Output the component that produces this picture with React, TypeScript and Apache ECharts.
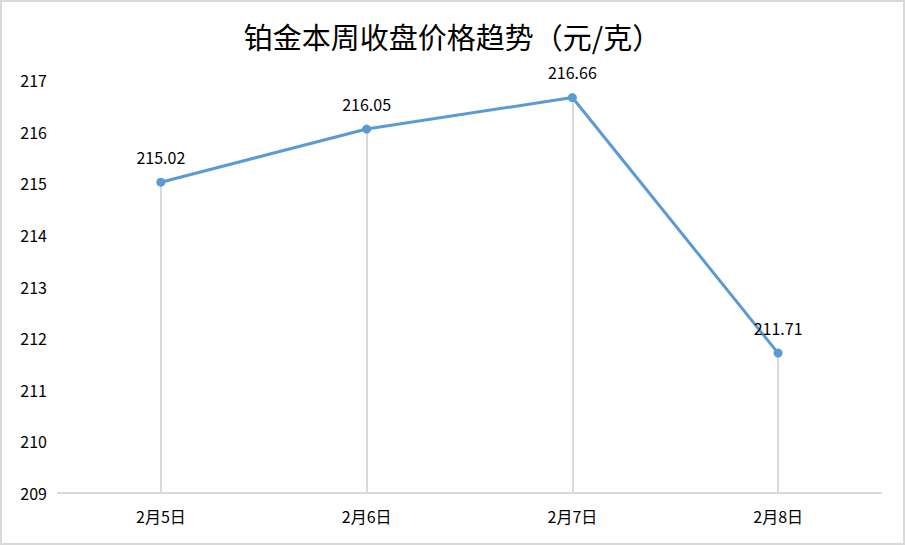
import React, { useEffect, useRef } from "react";
import * as echarts from "echarts";

const categories = ["2月5日", "2月6日", "2月7日", "2月8日"];
const prices = [215.02, 216.05, 216.66, 211.71];
const yMin = 209;
const yMax = 217;
const titleText = "铂金本周收盘价格趋势（元/克）";

export default function App() {
  const ref = useRef<HTMLDivElement>(null);
  useEffect(() => {
    if (!ref.current) return;
    const chart = echarts.init(ref.current, undefined, { renderer: "svg" });
    const font = "'Noto Sans CJK SC', 'Noto Sans', sans-serif";
    chart.setOption({
      animation: false,
      backgroundColor: "#ffffff",
      title: {
        text: titleText,
        left: "center",
        top: 14,
        textStyle: { fontFamily: font, fontSize: 29, fontWeight: "normal", color: "#000000" },
      },
      grid: { left: 56, right: 22, top: 78, bottom: 50, containLabel: false },
      xAxis: {
        type: "category",
        data: categories,
        boundaryGap: true,
        axisLine: { show: true, lineStyle: { color: "#d9d9d9", width: 2 } },
        axisTick: { show: false },
        axisLabel: { fontFamily: font, fontSize: 16, color: "#000000", margin: 15 },
        splitLine: { show: false },
      },
      yAxis: {
        type: "value",
        min: yMin,
        max: yMax,
        interval: 1,
        axisLine: { show: false },
        axisTick: { show: false },
        splitLine: { show: false },
        axisLabel: { fontFamily: font, fontSize: 16, color: "#000000", margin: 11 },
      },
      series: [
        {
          type: "line",
          data: prices,
          symbol: "circle",
          symbolSize: 9,
          lineStyle: { color: "#5b9bd5", width: 3 },
          itemStyle: { color: "#5b9bd5" },
          label: {
            show: true,
            position: "top",
            distance: 13,
            fontFamily: font,
            fontSize: 16,
            color: "#000000",
            formatter: (p: any) => p.value.toFixed(2),
          },
          z: 3,
          markLine: {
            silent: true,
            symbol: "none",
            label: { show: false },
            lineStyle: { color: "#d9d9d9", width: 2, type: "solid" },
            data: categories.map((c, i) => [
              { coord: [c, prices[i]] },
              { coord: [c, yMin] },
            ]),
            z: 1,
          },
        },
      ],
    });
    return () => chart.dispose();
  }, []);
  return (
    <div
      ref={ref}
      style={{
        position: "fixed",
        left: 0,
        top: 0,
        width: 905,
        height: 545,
        boxSizing: "border-box",
        border: "2px solid #d9d9d9",
        background: "#fff",
      }}
    />
  );
}
